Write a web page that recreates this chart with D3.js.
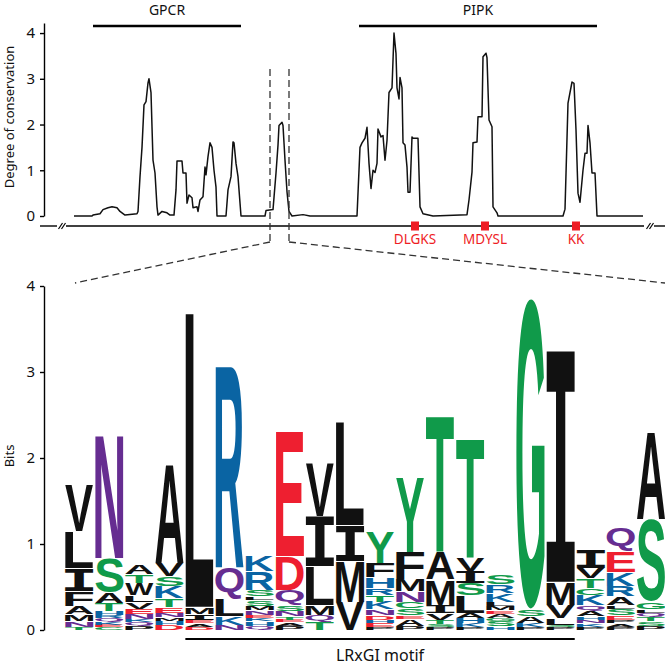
<!DOCTYPE html>
<html><head><meta charset="utf-8">
<script src="https://cdn.jsdelivr.net/npm/d3@7"></script>
<style>body{margin:0;background:#fff} svg{display:block}</style>
</head><body>
<svg id="chart" width="665" height="671"></svg>
<script>
// ---------- DATA ----------
// conservation profile: alignment position and degree of conservation
const consPos = [0,18,19,26,29,34,38,43,46,51,63,64,66,68,70,72,74,75,77,78,79,81,83,84,88,93,96,100,102,103,108,109,112,113,115,118,119,123,124,126,129,131,132,134,136,138,140,142,143,145,152,154,157,159,160,162,164,167,191,192,199,202,204,205,208,209,211,213,215,218,229,236,283,286,288,291,293,295,297,299,301,303,304,307,309,311,313,315,318,320,322,323,325,326,328,329,331,333,334,336,338,339,344,346,349,359,393,395,398,399,403,404,408,409,412,413,415,418,419,423,424,489,491,494,498,500,502,504,506,509,511,513,514,516,518,521,523,569];
const consVal = [0,0,0.02,0.05,0.14,0.18,0.2,0.18,0.1,0.02,0.05,0.1,0.86,1.5,2.43,2.5,2.91,3.0,2.7,1.95,1.22,0.94,0.2,0.02,0.1,0.07,0.02,0.02,0.57,1.2,1.2,0.94,0.94,0.28,0.46,0.4,0.18,0.2,0.1,0.35,0.42,1.07,0.9,1.3,1.6,1.5,1.0,0.63,0,0,0,0.57,0.86,1.62,1.6,1.15,0.86,0,0,0.12,0.14,0.94,1.55,1.98,2.05,1.98,1.22,0.53,0.1,0,0.03,0,0,1.5,1.6,1.7,1.94,1.15,0.6,1.0,0.95,1.15,1.9,1.73,1.76,1.22,1.65,2.7,2.8,4.0,3.55,2.8,2.56,3.03,2.8,1.6,1.55,1.07,0.52,0.52,1.73,1.7,1.7,0.2,0.05,0,0.03,0.35,0.96,1.6,1.62,2.17,2.17,3.48,3.56,3.46,2.1,1.95,0.2,0.07,0,0,0.15,2.47,2.93,2.9,1.88,0.5,0.3,1.0,1.37,1.37,1.98,1.6,0.94,0.94,0,0];
const domainNames = ["GPCR", "PIPK"];
const domainStart = [19, 285];
const domainEnd = [167, 523];
const zoomRegion = [196, 215];
const motifNames = ["DLGKS", "MDYSL", "KK"];
const motifPos = [341, 411, 502];
const consTicks = [0, 1, 2, 3, 4];
const bitsTicks = [0, 1, 2, 3, 4];
// sequence logo: each column lists [residue, bits] from bottom to top
const logoStacks = [
  [["T",.04],["N",.07],["M",.08],["A",.09],["F",.17],["I",.27],["L",.43],["V",.54]],
  [["C",.03],["E",.03],["K",.04],["Q",.04],["R",.03],["H",.05],["T",.09],["A",.13],["S",.40],["N",1.44]],
  [["P",.05],["Q",.04],["K",.04],["N",.06],["E",.06],["V",.08],["L",.08],["W",.14],["T",.10],["A",.11]],
  [["D",.06],["H",.05],["M",.04],["N",.05],["E",.07],["T",.10],["K",.14],["S",.12],["V",.15],["A",1.16]],
  [["D",.04],["A",.04],["E",.04],["I",.07],["M",.08],["L",3.42]],
  [["N",.06],["K",.10],["L",.20],["Q",.37],["R",2.34]],
  [["Q",.05],["H",.05],["K",.04],["E",.04],["N",.05],["M",.05],["S",.07],["L",.04],["S",.08],["R",.22],["K",.19]],
  [["P",.05],["A",.04],["E",.03],["T",.04],["N",.06],["S",.06],["Q",.19],["D",.39],["E",1.45]],
  [["T",.10],["Q",.08],["M",.11],["L",.46],["I",.58],["V",.62]],
  [["V",.33],["M",.47],["I",.42],["L",1.20]],
  [["P",.03],["E",.05],["H",.04],["D",.05],["N",.07],["K",.09],["T",.08],["R",.08],["H",.12],["F",.17],["Y",.36]],
  [["P",.05],["A",.08],["E",.04],["S",.08],["C",.08],["N",.12],["M",.14],["F",.32],["Y",.87]],
  [["P",.03],["S",.04],["T",.05],["V",.08],["I",.09],["M",.30],["A",.32],["T",1.60]],
  [["P",.03],["K",.05],["H",.06],["A",.06],["L",.20],["S",.15],["I",.14],["V",.15],["T",1.40]],
  [["H",.04],["S",.06],["G",.04],["A",.05],["E",.04],["M",.05],["L",.05],["K",.10],["R",.10],["S",.12]],
  [["P",.03],["K",.05],["A",.08],["S",.09],["G",3.61]],
  [["P",.03],["S",.03],["L",.08],["V",.15],["M",.27],["I",2.69]],
  [["P",.04],["K",.04],["N",.04],["H",.04],["A",.06],["Q",.07],["K",.12],["C",.08],["T",.11],["V",.12],["I",.22]],
  [["P",.04],["A",.04],["P",.04],["E",.05],["S",.08],["L",.04],["A",.10],["R",.12],["K",.16],["E",.25],["Q",.27]],
  [["P",.05],["S",.05],["T",.05],["Q",.05],["L",.04],["G",.09],["S",.96],["A",1.02]]
];
const motifLabel = "LRxGI motif";
const motifColumns = [4, 16];

// ---------- STYLE ----------
const GREEN = "#109a4a", BLUE = "#0a64a3", RED = "#ee1f30", PURPLE = "#662d91", BLACK = "#111";
const colorOf = r => ("GSTYC".includes(r) ? GREEN : "NQ".includes(r) ? PURPLE : "KRH".includes(r) ? BLUE : "DE".includes(r) ? RED : BLACK);
const FONT = "'Noto Sans', 'Open Sans', sans-serif";

const svg = d3.select("#chart");

// ---------- TOP PANEL ----------
const x = d3.scaleLinear().domain([0, 569]).range([74, 643]);
const y = d3.scaleLinear().domain([0, 4.22]).range([216, 23]);

const yAx = svg.append("g").attr("transform", "translate(44,0)")
  .call(d3.axisLeft(y).tickValues(consTicks).tickFormat(d3.format("d")).tickSize(4).tickSizeOuter(0).tickPadding(5));
yAx.select(".domain").attr("stroke", "#000").attr("stroke-width", 1.4);
yAx.selectAll(".tick line").attr("stroke", "#000").attr("stroke-width", 1.4);
yAx.selectAll("text").attr("font-family", FONT).attr("font-size", 15).attr("fill", "#111");

svg.append("text").attr("transform", "translate(14,117) rotate(-90)")
  .attr("text-anchor", "middle").attr("font-family", FONT).attr("font-size", 13).attr("fill", "#111")
  .text("Degree of conservation");

// axis line with breaks
const axisY = 226;
const segs = [[40, 57], [66, 644], [654, 665]];
svg.append("g").selectAll("line").data(segs).join("line")
  .attr("x1", d => d[0]).attr("x2", d => d[1]).attr("y1", axisY).attr("y2", axisY)
  .attr("stroke", "#000").attr("stroke-width", 1.4);
const breaks = [58.5, 61.5, 646.5, 649.5];
svg.append("g").selectAll("line").data(breaks).join("line")
  .attr("x1", d => d).attr("x2", d => d + 4).attr("y1", axisY + 3).attr("y2", axisY - 3)
  .attr("stroke", "#000").attr("stroke-width", 1.2);

// domain bars
svg.append("g").selectAll("line").data(domainNames).join("line")
  .attr("x1", (d, i) => x(domainStart[i])).attr("x2", (d, i) => x(domainEnd[i]))
  .attr("y1", 26).attr("y2", 26).attr("stroke", "#000").attr("stroke-width", 2.5);
svg.append("g").selectAll("text").data(domainNames).join("text")
  .attr("x", (d, i) => (x(domainStart[i]) + x(domainEnd[i])) / 2).attr("y", 15)
  .attr("text-anchor", "middle").attr("font-family", FONT).attr("font-size", 14).attr("fill", "#111")
  .text(d => d);

// conservation line
const pts = consPos.map((p, i) => [p, consVal[i]]);
svg.append("path").datum(pts)
  .attr("d", d3.line().x(d => x(d[0])).y(d => y(d[1])))
  .attr("fill", "none").attr("stroke", "#111").attr("stroke-width", 1.5).attr("stroke-linejoin", "round");

// motif markers
svg.append("g").selectAll("rect").data(motifPos).join("rect")
  .attr("x", d => x(d) - 4).attr("y", axisY - 4.5).attr("width", 8).attr("height", 9).attr("fill", "#ee1c25");
svg.append("g").selectAll("text").data(motifNames).join("text")
  .attr("x", (d, i) => x(motifPos[i])).attr("y", 244)
  .attr("text-anchor", "middle").attr("font-family", FONT).attr("font-size", 13.5).attr("fill", "#ee1c25")
  .text(d => d);

// ---------- BOTTOM PANEL ----------
const yb = d3.scaleLinear().domain([0, 4]).range([630, 286]);
const xb = d3.scaleBand().domain(d3.range(logoStacks.length)).range([65, 665]).paddingInner(0.06).paddingOuter(0);

// zoom dashed lines
const dashStyle = g => g.attr("stroke", "#333").attr("stroke-width", 1.3).attr("stroke-dasharray", "7,4").attr("fill", "none");
svg.append("g").selectAll("line").data(zoomRegion).join("line")
  .attr("x1", d => x(d)).attr("x2", d => x(d)).attr("y1", 69).attr("y2", 242).call(dashStyle);
svg.append("line").attr("x1", x(zoomRegion[0])).attr("y1", 242).attr("x2", xb(0) + 10).attr("y2", 283).call(dashStyle);
svg.append("line").attr("x1", x(zoomRegion[1])).attr("y1", 242).attr("x2", xb(logoStacks.length - 1) + xb.bandwidth()).attr("y2", 283).call(dashStyle);

const ybAx = svg.append("g").attr("transform", "translate(44,0)")
  .call(d3.axisLeft(yb).tickValues(bitsTicks).tickFormat(d3.format("d")).tickSize(4).tickSizeOuter(0).tickPadding(5));
ybAx.select(".domain").attr("stroke", "#000").attr("stroke-width", 1.4);
ybAx.selectAll(".tick line").attr("stroke", "#000").attr("stroke-width", 1.4);
ybAx.selectAll("text").attr("font-family", FONT).attr("font-size", 15).attr("fill", "#111");

svg.append("text").attr("transform", "translate(14,456) rotate(-90)")
  .attr("text-anchor", "middle").attr("font-family", FONT).attr("font-size", 13).attr("fill", "#111")
  .text("Bits");

// letter metrics through canvas
const ctx = document.createElement("canvas").getContext("2d");
const fontFor = r => (r === "I" ? "'DejaVu Sans Mono'" : "'Liberation Sans'");
const metricCache = {};
function metrics(r) {
  if (!metricCache[r]) {
    ctx.font = "bold 100px " + fontFor(r);
    const t = ctx.measureText(r);
    metricCache[r] = { l: t.actualBoundingBoxLeft, r: t.actualBoundingBoxRight, a: t.actualBoundingBoxAscent, d: t.actualBoundingBoxDescent };
  }
  return metricCache[r];
}

const letters = [];
logoStacks.forEach((stack, ci) => {
  let acc = 0;
  stack.forEach(([res, h]) => {
    letters.push({ col: ci, res, y0: acc, y1: acc + h });
    acc += h;
  });
});

const logo = svg.append("g");
logo.selectAll("text").data(letters).join("text")
  .attr("font-family", d => fontFor(d.res)).attr("font-weight", "bold").attr("font-size", 100)
  .attr("fill", d => colorOf(d.res))
  .attr("transform", d => {
    const m = metrics(d.res);
    const top = yb(d.y1), bot = yb(d.y0);
    let ph = bot - top;
    const gap = ph > 3 ? 0.7 : 0;
    ph -= gap;
    const w = xb.bandwidth();
    const sx = w / (m.l + m.r), sy = ph / (m.a + m.d);
    return `translate(${xb(d.col)},${top + gap}) scale(${sx},${sy}) translate(${m.l},${m.a})`;
  })
  .text(d => d.res);

// motif bar
const mx0 = xb(motifColumns[0]), mx1 = xb(motifColumns[1]) + xb.bandwidth();
svg.append("line").attr("x1", mx0).attr("x2", mx1).attr("y1", 639).attr("y2", 639)
  .attr("stroke", "#000").attr("stroke-width", 2);
svg.append("text").attr("x", (mx0 + mx1) / 2).attr("y", 661).attr("text-anchor", "middle")
  .attr("font-family", FONT).attr("font-size", 16).attr("fill", "#111").text(motifLabel);
</script>
</body></html>
